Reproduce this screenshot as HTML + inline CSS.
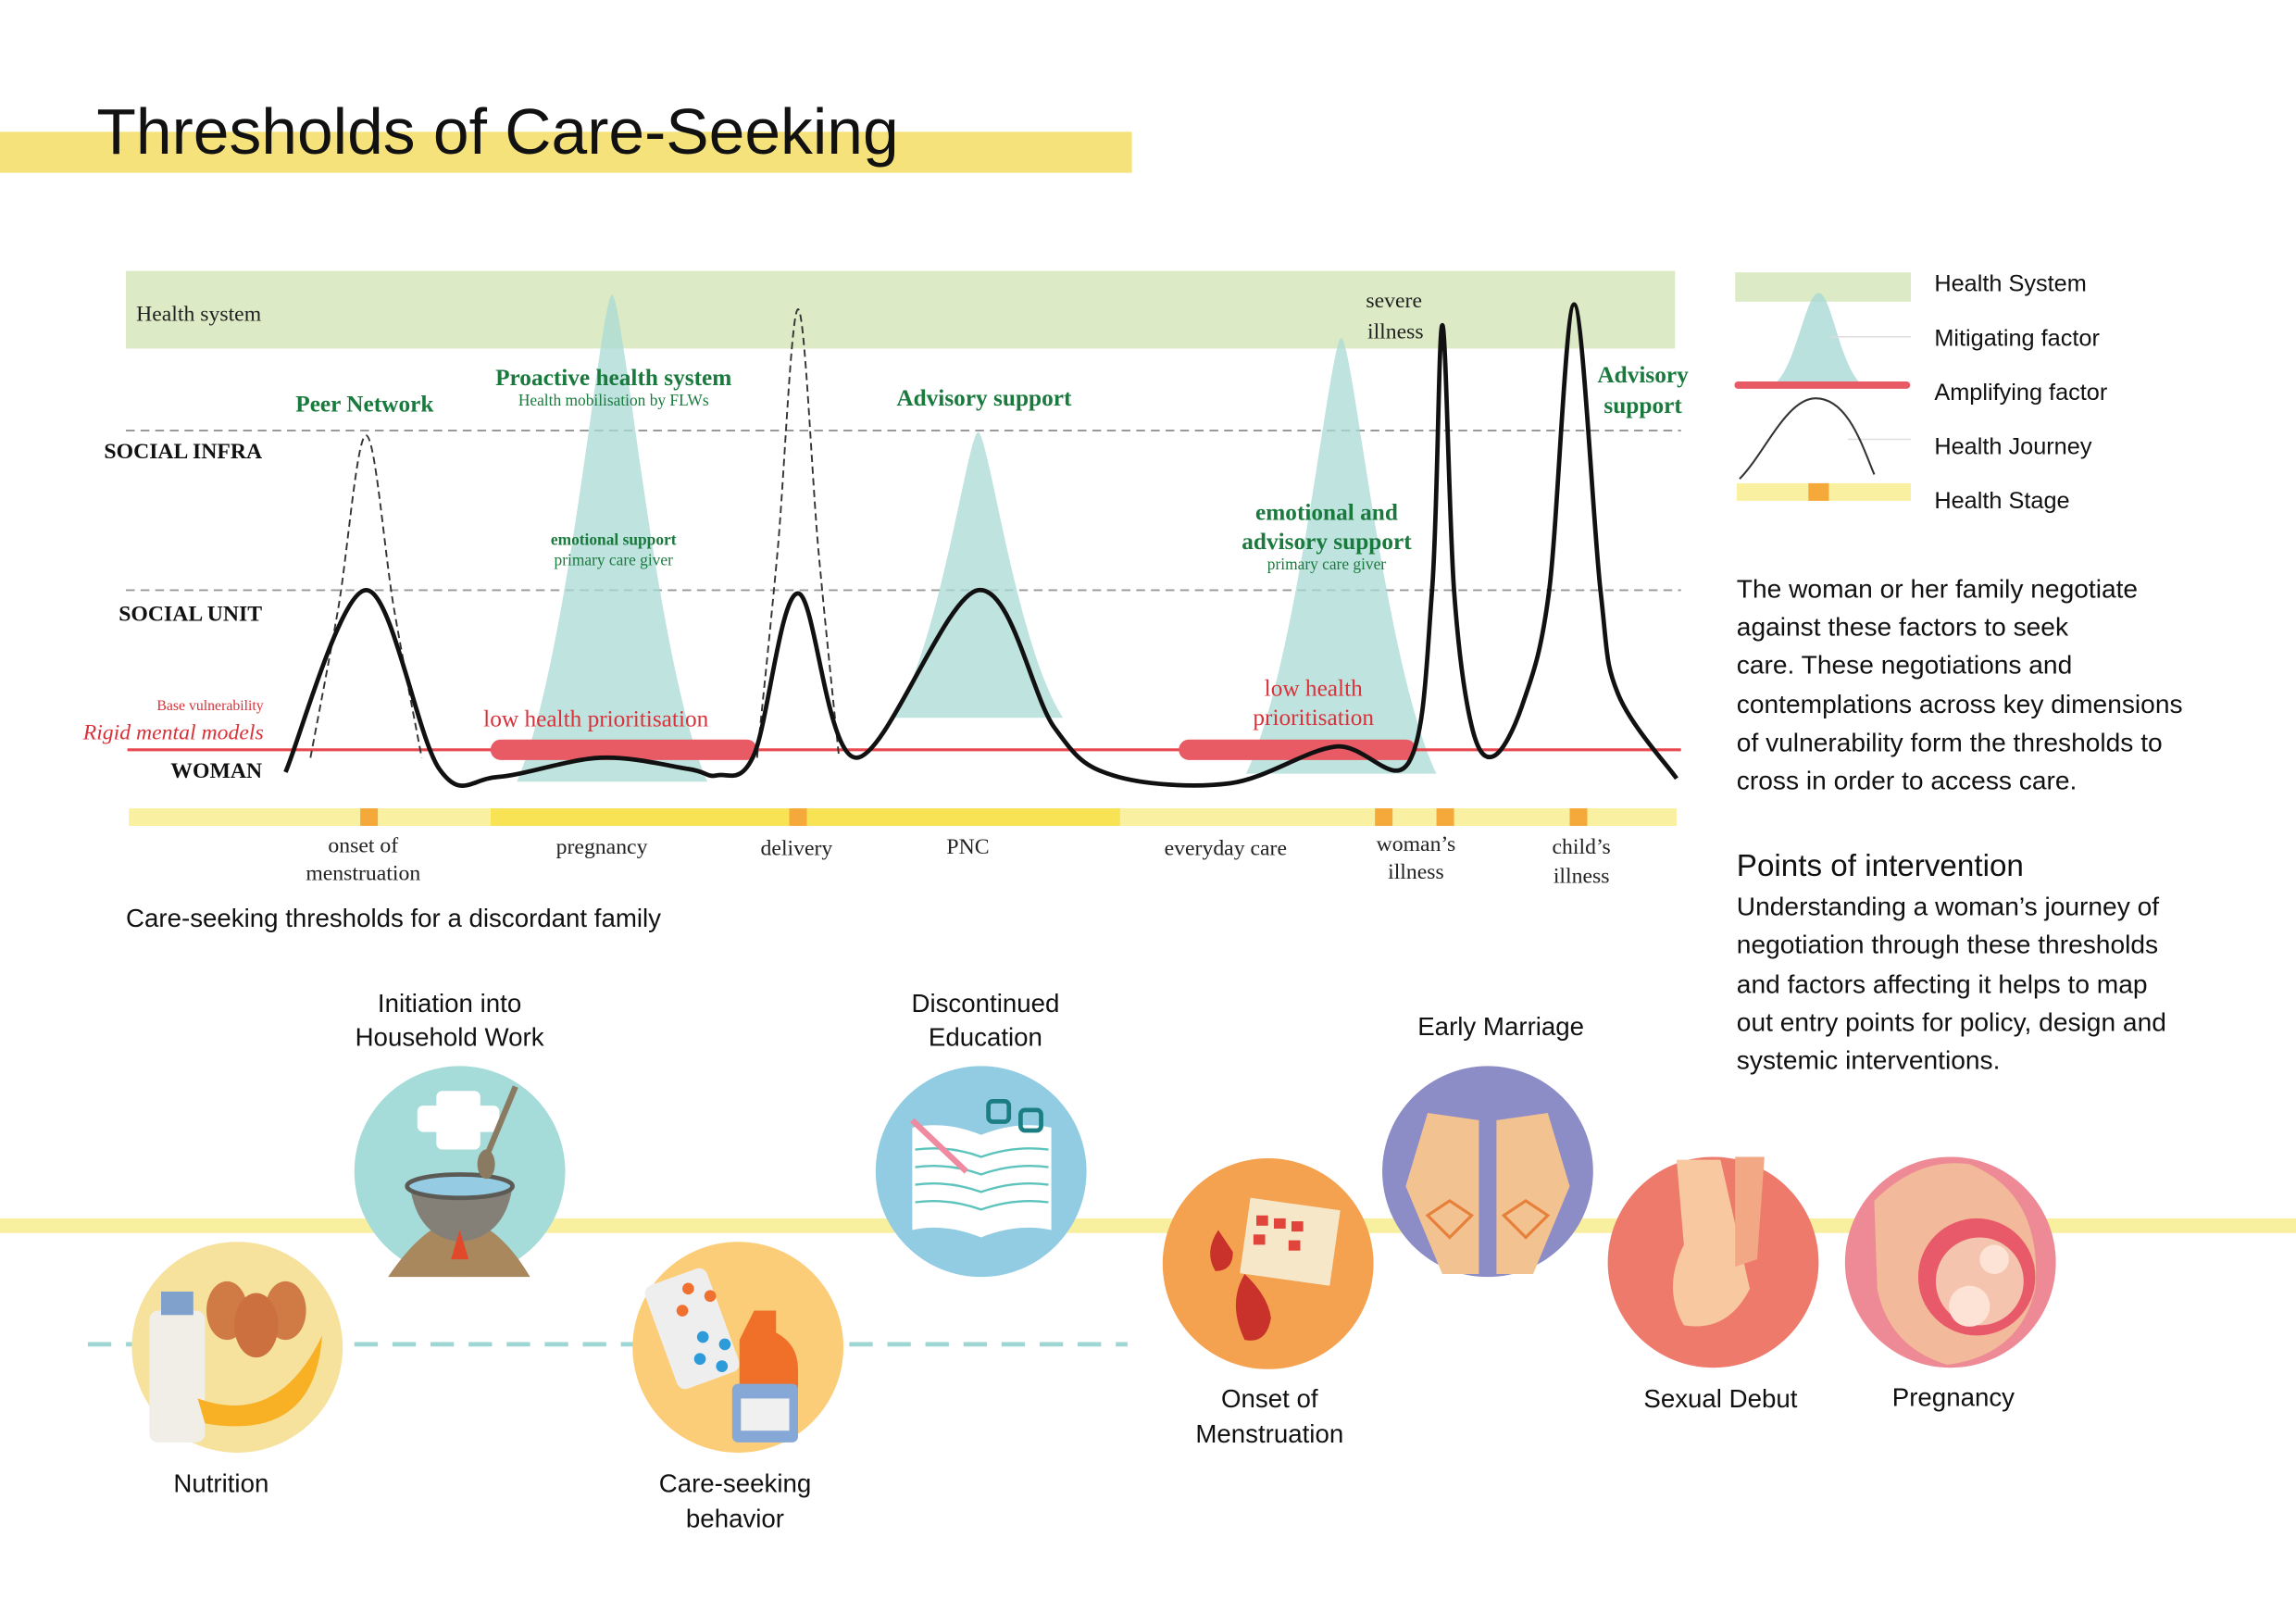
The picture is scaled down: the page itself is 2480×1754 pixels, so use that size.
<!DOCTYPE html>
<html><head><meta charset="utf-8"><style>
html,body{margin:0;padding:0;background:#fff;}
svg{display:block;}
.serif{font-family:"Liberation Serif",serif;}
.sans{font-family:"Liberation Sans",sans-serif;}
</style></head><body>
<svg id="chart" width="2480" height="1754" viewBox="0 0 1568 1109" xmlns="http://www.w3.org/2000/svg">
<rect width="1568" height="1109" fill="#fff"/>
<g>
<rect x="0" y="90" width="773" height="28" fill="#f6e27a"/>
<text x="66" y="105" class="sans" font-size="44" fill="#111">Thresholds of Care-Seeking</text>
</g>
<g id="plot">
<rect x="86" y="185" width="1058" height="53" fill="#dcebc6"/>
<text x="93" y="219" class="serif" font-size="15" fill="#222">Health system</text>
<line x1="86" y1="294" x2="1148" y2="294" stroke="#999" stroke-dasharray="6,4" stroke-width="1.2"/>
<line x1="86" y1="403" x2="1148" y2="403" stroke="#999" stroke-dasharray="6,4" stroke-width="1.2"/>
<text x="179" y="313" text-anchor="end" class="serif" font-size="15" font-weight="bold" fill="#111">SOCIAL INFRA</text>
<text x="179" y="424" text-anchor="end" class="serif" font-size="15" font-weight="bold" fill="#111">SOCIAL UNIT</text>
<text x="179" y="531" text-anchor="end" class="serif" font-size="15" font-weight="bold" fill="#111">WOMAN</text>
<text x="180" y="485" text-anchor="end" class="serif" font-size="10" fill="#d9323a">Base vulnerability</text>
<text x="180" y="505" text-anchor="end" class="serif" font-size="15" font-style="italic" fill="#d9323a">Rigid mental models</text>
<g id="mitig"></g>
<line x1="87" y1="512" x2="1148" y2="512" stroke="#e8484f" stroke-width="2"/>
<g id="amp"></g>
<g id="dashed"></g>
<path id="journey" fill="none" stroke="#111" stroke-width="3"/>
<g id="stages"></g>
<g>
<text x="249" y="281" text-anchor="middle" class="serif" font-size="16" font-weight="bold" fill="#1a7a3e">Peer Network</text>
<text x="419" y="263" text-anchor="middle" class="serif" font-size="16" font-weight="bold" fill="#1a7a3e">Proactive health system</text>
<text x="419" y="277" text-anchor="middle" class="serif" font-size="11" fill="#1a7a3e">Health mobilisation by FLWs</text>
<text x="419" y="372" text-anchor="middle" class="serif" font-size="11" font-weight="bold" fill="#1a7a3e">emotional support</text>
<text x="419" y="386" text-anchor="middle" class="serif" font-size="11" fill="#1a7a3e">primary care giver</text>
<text x="672" y="277" text-anchor="middle" class="serif" font-size="16" font-weight="bold" fill="#1a7a3e">Advisory support</text>
<text x="906" y="355" text-anchor="middle" class="serif" font-size="16" font-weight="bold" fill="#1a7a3e">emotional and</text>
<text x="906" y="375" text-anchor="middle" class="serif" font-size="16" font-weight="bold" fill="#1a7a3e">advisory support</text>
<text x="906" y="389" text-anchor="middle" class="serif" font-size="11" fill="#1a7a3e">primary care giver</text>
<text x="1122" y="261" text-anchor="middle" class="serif" font-size="16" font-weight="bold" fill="#1a7a3e">Advisory</text>
<text x="1122" y="282" text-anchor="middle" class="serif" font-size="16" font-weight="bold" fill="#1a7a3e">support</text>
<text x="952" y="210" text-anchor="middle" class="serif" font-size="15" fill="#222">severe</text>
<text x="953" y="231" text-anchor="middle" class="serif" font-size="15" fill="#222">illness</text>
<text x="407" y="496" text-anchor="middle" class="serif" font-size="16" fill="#d9323a">low health  prioritisation</text>
<text x="897" y="475" text-anchor="middle" class="serif" font-size="16" fill="#d9323a">low health</text>
<text x="897" y="495" text-anchor="middle" class="serif" font-size="16" fill="#d9323a">prioritisation</text>
</g>
<g id="stagelabels" class="serif" font-size="15" fill="#222" text-anchor="middle">
<text x="248" y="582">onset of</text>
<text x="248" y="601">menstruation</text>
<text x="411" y="583">pregnancy</text>
<text x="544" y="584">delivery</text>
<text x="661" y="583">PNC</text>
<text x="837" y="584">everyday care</text>
<text x="967" y="581">woman’s</text>
<text x="967" y="600">illness</text>
<text x="1080" y="583">child’s</text>
<text x="1080" y="603">illness</text>
</g>
<text x="86" y="633" class="sans" font-size="17.5" fill="#111">Care-seeking thresholds for a discordant family</text>
</g>
<g>
<rect x="1185" y="186" width="120" height="20" fill="#dcebc6"/>
<path d="M1205,265 C1225,265 1232,200 1242,200 C1252,200 1258,265 1278,265 Z" fill="#a9d9d4" opacity="0.8"/>
<line x1="1250" y1="230" x2="1305" y2="230" stroke="#ddd"/>
<line x1="1262" y1="300" x2="1305" y2="300" stroke="#ddd"/>
<line x1="1187" y1="263" x2="1302" y2="263" stroke="#e85a64" stroke-width="5" stroke-linecap="round"/>
<path d="M1188,327 C1205,310 1220,272 1240,272 C1262,272 1272,305 1280,324" fill="none" stroke="#333" stroke-width="1.3"/>
<rect x="1186" y="330" width="119" height="12" fill="#faf0a2"/>
<rect x="1235" y="330" width="14" height="12" fill="#f5a93a"/>
<g class="sans" font-size="16" fill="#111">
<text x="1321" y="199">Health System</text>
<text x="1321" y="236">Mitigating factor</text>
<text x="1321" y="273">Amplifying factor</text>
<text x="1321" y="310">Health Journey</text>
<text x="1321" y="347">Health Stage</text>
</g>
</g>
<g class="sans" fill="#111">
<g font-size="17.8">
<text x="1186" y="408">The woman or her family negotiate</text>
<text x="1186" y="434">against these factors to seek</text>
<text x="1186" y="460">care. These negotiations and</text>
<text x="1186" y="487">contemplations across key dimensions</text>
<text x="1186" y="513">of vulnerability form the thresholds to</text>
<text x="1186" y="539">cross in order to access care.</text>
</g>
<text x="1186" y="598" font-size="21">Points of intervention</text>
<g font-size="17.8">
<text x="1186" y="625">Understanding a woman’s journey of</text>
<text x="1186" y="651">negotiation through these thresholds</text>
<text x="1186" y="678">and factors affecting it helps to map</text>
<text x="1186" y="704">out entry points for policy, design and</text>
<text x="1186" y="730">systemic interventions.</text>
</g>
</g>
<g>
<rect x="0" y="832" width="1568" height="10" fill="#f8ef9f"/>
<line x1="60" y1="918" x2="770" y2="918" stroke="#9ed6d4" stroke-width="3" stroke-dasharray="16,10"/>
<g>
<circle cx="314" cy="800" r="72" fill="#a5dbd8"/>
<path d="M265,872 Q290,835 314,832 Q340,835 362,872 Z" fill="#a8885c"/>
<rect x="298" y="745" width="30" height="40" fill="#fff" rx="4"/><rect x="285" y="755" width="56" height="18" fill="#fff" rx="4"/>
<path d="M280,810 L350,810 Q345,845 314,848 Q285,845 280,810Z" fill="#848077"/>
<ellipse cx="314" cy="810" rx="36" ry="8" fill="#95cbe3" stroke="#5c5a55" stroke-width="3"/>
<line x1="330" y1="795" x2="352" y2="742" stroke="#8a7a62" stroke-width="4"/><ellipse cx="332" cy="795" rx="6" ry="10" fill="#8a7a62"/>
<path d="M314,840 L320,860 L308,860Z" fill="#e04a2a"/>
</g>
<g>
<circle cx="670" cy="800" r="72" fill="#92cce3"/>
<path d="M623,770 Q645,765 670,775 Q695,765 718,770 L718,840 Q695,835 670,845 Q645,835 623,840Z" fill="#fff"/>
<g stroke="#5cc4bc" stroke-width="1.5" fill="none"><path d="M625,785 Q648,782 670,790 Q693,782 716,785"/><path d="M625,797 Q648,794 670,802 Q693,794 716,797"/><path d="M625,809 Q648,806 670,814 Q693,806 716,809"/><path d="M625,821 Q648,818 670,826 Q693,818 716,821"/></g>
<line x1="623" y1="765" x2="660" y2="800" stroke="#ef8aa0" stroke-width="4"/>
<g stroke="#1b7e82" stroke-width="3" fill="none"><rect x="675" y="752" width="14" height="14" rx="3"/><rect x="697" y="758" width="14" height="14" rx="3"/></g>
</g>
<g>
<circle cx="1016" cy="800" r="72" fill="#8c8cc7"/>
<path d="M960,810 L975,760 L1010,765 L1010,870 L985,870 Z" fill="#f3c291"/>
<path d="M1072,810 L1057,760 L1022,765 L1022,870 L1047,870 Z" fill="#f3c291"/>
<g stroke="#e6803a" stroke-width="2" fill="none"><path d="M975,830 L990,820 L1005,830 L990,845Z"/><path d="M1027,830 L1042,820 L1057,830 L1042,845Z"/></g>
</g>
<g>
<circle cx="162" cy="920" r="72" fill="#f6e19d"/>
<rect x="102" y="895" width="38" height="90" fill="#f0eee6" rx="6"/><rect x="110" y="882" width="22" height="16" fill="#7fa1cc"/>
<ellipse cx="155" cy="895" rx="14" ry="20" fill="#d07b45"/><ellipse cx="195" cy="895" rx="14" ry="20" fill="#d07b45"/><ellipse cx="175" cy="905" rx="15" ry="22" fill="#cc7040"/>
<path d="M135,955 Q190,975 220,912 Q215,985 140,972Z" fill="#f8b124"/>
</g>
<g>
<circle cx="504" cy="920" r="72" fill="#fccd78"/>
<rect x="450" y="870" width="45" height="75" rx="6" fill="#eeeeee" transform="rotate(-20 472 907)"/>
<g fill="#2d9ad9"><circle cx="480" cy="913" r="4"/><circle cx="495" cy="918" r="4"/><circle cx="478" cy="928" r="4"/><circle cx="493" cy="933" r="4"/></g>
<g fill="#f07030"><circle cx="470" cy="880" r="4"/><circle cx="485" cy="885" r="4"/><circle cx="466" cy="895" r="4"/></g>
<path d="M515,895 L530,895 L530,910 Q545,918 545,935 L545,980 L505,980 L505,915Z" fill="#f0702a"/>
<rect x="500" y="945" width="45" height="40" rx="4" fill="#86a8d6"/><rect x="506" y="955" width="33" height="22" fill="#f0f0f0"/>
</g>
<g>
<circle cx="866" cy="863" r="72" fill="#f4a150"/>
<rect x="850" y="822" width="62" height="52" fill="#f6e7c9" transform="rotate(8 881 848)"/>
<g fill="#e0443a"><rect x="858" y="830" width="8" height="7"/><rect x="870" y="832" width="8" height="7"/><rect x="882" y="834" width="8" height="7"/><rect x="856" y="843" width="8" height="7"/><rect x="880" y="847" width="8" height="7"/></g>
<path d="M850,870 Q838,890 850,915 Q865,918 868,900 Q866,885 850,870Z" fill="#c9322a"/>
<path d="M832,840 Q822,855 830,868 Q842,868 842,855 Z" fill="#c9322a"/>
</g>
<g>
<circle cx="1170" cy="862" r="72" fill="#ee7a6b"/>
<path d="M1145,792 L1175,792 L1195,880 Q1180,910 1150,905 Q1135,880 1150,850Z" fill="#f8c9a0"/>
<path d="M1185,790 L1205,790 L1200,860 L1185,865Z" fill="#f2a885"/>
</g>
<g>
<circle cx="1332" cy="862" r="72" fill="#ee8a96"/>
<path d="M1280,820 Q1310,790 1345,795 Q1395,815 1390,880 Q1380,925 1330,932 Q1290,920 1282,880Z" fill="#f2b99a"/>
<circle cx="1350" cy="872" r="40" fill="#e85a6a"/><circle cx="1352" cy="875" r="30" fill="#f4c4ae"/><circle cx="1345" cy="892" r="14" fill="#fde3d6"/><circle cx="1362" cy="860" r="10" fill="#fde3d6"/>
</g>
<g class="sans" font-size="17.5" fill="#111" text-anchor="middle">
<text x="307" y="691">Initiation into</text>
<text x="307" y="714">Household Work</text>
<text x="673" y="691">Discontinued</text>
<text x="673" y="714">Education</text>
<text x="1025" y="707">Early Marriage</text>
<text x="151" y="1019">Nutrition</text>
<text x="502" y="1019">Care-seeking</text>
<text x="502" y="1043">behavior</text>
<text x="867" y="961">Onset of</text>
<text x="867" y="985">Menstruation</text>
<text x="1175" y="961">Sexual Debut</text>
<text x="1334" y="960">Pregnancy</text>
</g>
</g>
</svg>
<script>
// Levels: 0 = woman baseline, 1 = social unit, 2 = social infra, 3 = health system top
const journeyX = [195,250,300,340,410,470,490,515,545,585,668,720,760,840,912,962,978,985,993,1005,1020,1040,1058,1075,1093,1105,1145];
const journeyLevel = [-0.14,1.0,-0.12,-0.17,-0.05,-0.12,-0.16,-0.03,0.98,-0.05,1.0,0.14,-0.16,-0.21,0.02,-0.08,1.0,2.66,1.0,0.15,-0.04,0.29,1.0,2.79,1.0,0.35,-0.18];
const mitigCenter = [418,668,916];
const mitigPeak = [2.85,1.99,2.58];
const mitigHalfWidth = [65,58,65];
const mitigBase = [-0.2,0.2,-0.15];
const dashedCenter = [250,545];
const dashedPeak = [1.97,2.76];
const dashedHalfWidth = [38,28];
const ampStart = [342,812];
const ampEnd = [510,960];
const stageStart = [88,335,765];
const stageEnd = [335,765,1145];
const stageColor = ['#faf0a2','#f7e354','#faf0a2'];
const markerX = [252,545,945,987,1078];

const NS='http://www.w3.org/2000/svg';
const yOf = l => 512 - l*109;
function smooth(pts){
  let d='M'+pts[0][0]+','+pts[0][1];
  for(let i=0;i<pts.length-1;i++){
    const p0=pts[i-1]||pts[i],p1=pts[i],p2=pts[i+1],p3=pts[i+2]||p2;
    const c1=[p1[0]+(p2[0]-p0[0])/6,p1[1]+(p2[1]-p0[1])/6];
    const c2=[p2[0]-(p3[0]-p1[0])/6,p2[1]-(p3[1]-p1[1])/6];
    d+=` C${c1[0]},${c1[1]} ${c2[0]},${c2[1]} ${p2[0]},${p2[1]}`;
  }
  return d;
}
function peakPath(cx,peak,hw,base){
  const yb=yOf(base), yp=yOf(peak);
  return `M${cx-hw},${yb} C${cx-hw*0.45},${yb-(yb-yp)*0.25} ${cx-hw*0.12},${yp} ${cx},${yp} C${cx+hw*0.12},${yp} ${cx+hw*0.45},${yb-(yb-yp)*0.25} ${cx+hw},${yb} Z`;
}
const mg=document.getElementById('mitig');
mitigCenter.forEach((c,i)=>{
  const p=document.createElementNS(NS,'path');
  p.setAttribute('d',peakPath(c,mitigPeak[i],mitigHalfWidth[i],mitigBase[i]));
  p.setAttribute('fill','#a9d9d4');p.setAttribute('opacity','0.75');
  
  
  mg.appendChild(p);
});
const ag=document.getElementById('amp');
ampStart.forEach((s,i)=>{
  const l=document.createElementNS(NS,'line');
  l.setAttribute('x1',s);l.setAttribute('x2',ampEnd[i]);l.setAttribute('y1',512);l.setAttribute('y2',512);
  l.setAttribute('stroke','#e85a64');l.setAttribute('stroke-width','14');l.setAttribute('stroke-linecap','round');
  
  
  ag.appendChild(l);
});
const dg=document.getElementById('dashed');
dashedCenter.forEach((c,i)=>{
  const p=document.createElementNS(NS,'path');
  const hw=dashedHalfWidth[i];
  const pts=[[c-hw,yOf(-0.05)],[c-hw*0.5,yOf(dashedPeak[i]*0.45)],[c,yOf(dashedPeak[i])],[c+hw*0.5,yOf(dashedPeak[i]*0.45)],[c+hw,yOf(-0.05)]];
  p.setAttribute('d',smooth(pts));
  p.setAttribute('fill','none');p.setAttribute('stroke','#333');p.setAttribute('stroke-width','1.2');p.setAttribute('stroke-dasharray','5,3');
  
  
  dg.appendChild(p);
});
document.getElementById('journey').setAttribute('d',smooth(journeyX.map((x,i)=>[x,yOf(journeyLevel[i])])));
const sg=document.getElementById('stages');
stageStart.forEach((s,i)=>{
  const r=document.createElementNS(NS,'rect');
  r.setAttribute('x',s);r.setAttribute('y',552);r.setAttribute('width',stageEnd[i]-s);r.setAttribute('height',12);r.setAttribute('fill',stageColor[i]);
  
  
  sg.appendChild(r);
});
markerX.forEach(x=>{
  const r=document.createElementNS(NS,'rect');
  r.setAttribute('x',x-6);r.setAttribute('y',552);r.setAttribute('width',12);r.setAttribute('height',12);r.setAttribute('fill','#f5a93a');
  
  
  sg.appendChild(r);
});
</script>
</body></html>
